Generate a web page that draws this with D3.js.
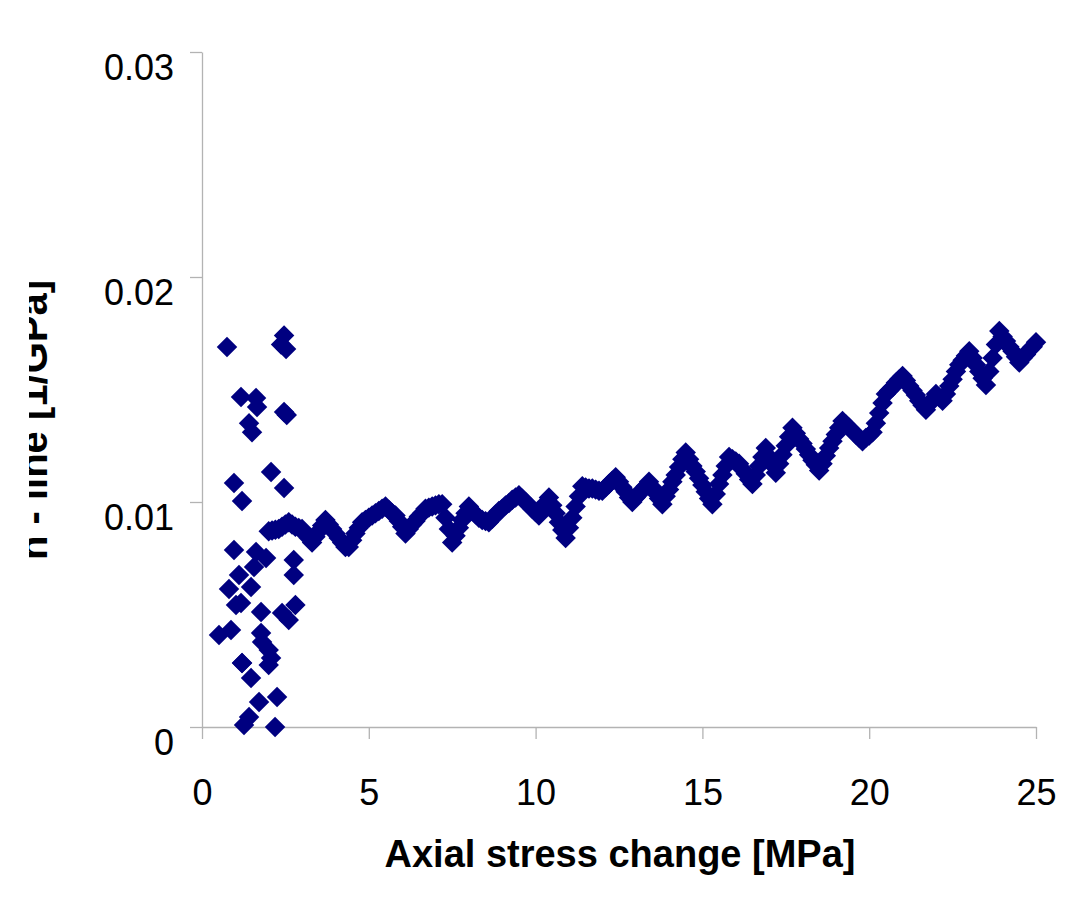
<!DOCTYPE html>
<html>
<head>
<meta charset="utf-8">
<script src="https://cdn.jsdelivr.net/npm/d3@7"></script>
<style>
  body { margin: 0; background: #fff; }
  svg { display: block; font-family: "Liberation Sans", Arial, sans-serif; }
  .axis path, .axis line { stroke: #b3b3b3; stroke-width: 1.3; }
  .axis text { fill: #000; font-size: 36px; }
</style>
</head>
<body>
<div id="chart"></div>
<script>
// scattered readings at low stress
var lowX = [0.51, 0.75, 0.81, 0.87, 0.96, 0.96, 1.02, 1.11, 1.17, 1.17, 1.2, 1.2, 1.2, 1.26, 1.41, 1.41, 1.47, 1.47, 1.5,
  1.56, 1.62, 1.65, 1.62, 1.71, 1.77, 1.77, 1.8, 1.92, 2.0, 2.0, 2.07, 2.07, 2.19, 2.25, 2.37, 2.4, 2.46, 2.46, 2.46,
  2.52, 2.54, 2.6, 2.75, 2.75, 2.8];
var lowY = [0.00409, 0.01689, 0.00613, 0.00431, 0.01084, 0.00787, 0.00542, 0.00676, 0.01467, 0.00551, 0.01004, 0.00284,
  0.00284, 0.00009, 0.00044, 0.0135, 0.00218, 0.00622, 0.0131, 0.00711, 0.01462, 0.01422, 0.00778, 0.00111, 0.00511,
  0.00418, 0.00378, 0.00751, 0.00342, 0.00276, 0.00307, 0.01133, 0, 0.00133, 0.0170, 0.00507, 0.0174, 0.0140, 0.01062,
  0.0168, 0.01387, 0.00476, 0.00742, 0.00676, 0.00542];

// main run (stress in MPa, n-line in 1/GPa x 1e-3 below)
var bandX = [2.0, 2.1, 2.2, 2.3, 2.4, 2.5, 2.6, 2.7, 2.8, 2.9, 3.0, 3.1, 3.2, 3.3, 3.4, 3.5, 3.6, 3.7, 3.8, 3.9,
  4.0, 4.1, 4.2, 4.3, 4.4, 4.5, 4.6, 4.7, 4.8, 4.9, 5.0, 5.1, 5.2, 5.3, 5.4, 5.5, 5.6, 5.7, 5.8, 5.9,
  6.0, 6.1, 6.2, 6.3, 6.4, 6.5, 6.6, 6.7, 6.8, 6.9, 7.0, 7.1, 7.2, 7.3, 7.4, 7.5, 7.6, 7.7, 7.8, 7.9,
  8.0, 8.1, 8.2, 8.3, 8.4, 8.5, 8.6, 8.7, 8.8, 8.9, 9.0, 9.1, 9.2, 9.3, 9.4, 9.5, 9.6, 9.7, 9.8, 9.9,
  10.0, 10.1, 10.2, 10.3, 10.4, 10.5, 10.6, 10.7, 10.8, 10.9, 11.0, 11.1, 11.2, 11.3, 11.4, 11.5, 11.6, 11.7, 11.8, 11.9,
  12.0, 12.1, 12.2, 12.3, 12.4, 12.5, 12.6, 12.7, 12.8, 12.9, 13.0, 13.1, 13.2, 13.3, 13.4, 13.5, 13.6, 13.7, 13.8, 13.9,
  14.0, 14.1, 14.2, 14.3, 14.4, 14.5, 14.6, 14.7, 14.8, 14.9, 15.0, 15.1, 15.2, 15.3, 15.4, 15.5, 15.6, 15.7, 15.8, 15.9,
  16.0, 16.1, 16.2, 16.3, 16.4, 16.5, 16.6, 16.7, 16.8, 16.9, 17.0, 17.1, 17.2, 17.3, 17.4, 17.5, 17.6, 17.7, 17.8, 17.9,
  18.0, 18.1, 18.2, 18.3, 18.4, 18.5, 18.6, 18.7, 18.8, 18.9, 19.0, 19.1, 19.2, 19.3, 19.4, 19.5, 19.6, 19.7, 19.8, 19.9,
  20.0, 20.1, 20.2, 20.3, 20.4, 20.5, 20.6, 20.7, 20.8, 20.9, 21.0, 21.1, 21.2, 21.3, 21.4, 21.5, 21.6, 21.7, 21.8, 21.9,
  22.0, 22.1, 22.2, 22.3, 22.4, 22.5, 22.6, 22.7, 22.8, 22.9, 23.0, 23.1, 23.2, 23.3, 23.4, 23.5, 23.6, 23.7, 23.8, 23.9,
  24.0, 24.1, 24.2, 24.3, 24.4, 24.5, 24.6, 24.7, 24.8, 24.9, 25.0];
var bandY = [8.7, 8.73, 8.77, 8.8, 8.9, 9.0, 9.1, 9.0, 8.9, 8.85, 8.8, 8.6, 8.4, 8.2, 8.45, 8.7, 8.95, 9.2, 9.0, 8.8,
  8.6, 8.4, 8.2, 8.0, 8.0, 8.3, 8.6, 8.85, 9.1, 9.2, 9.3, 9.4, 9.5, 9.6, 9.7, 9.8, 9.65, 9.5, 9.4, 9.15,
  8.9, 8.6, 8.8, 9.0, 9.15, 9.35, 9.5, 9.7, 9.75, 9.8, 9.85, 9.9, 9.9, 9.3, 8.8, 8.2, 8.5, 8.85, 9.2, 9.5,
  9.8, 9.6, 9.45, 9.3, 9.2, 9.15, 9.1, 9.25, 9.45, 9.6, 9.7, 9.85, 9.95, 10.1, 10.2, 10.3, 10.15, 10.0, 9.85, 9.7,
  9.55, 9.4, 9.65, 9.95, 10.2, 9.85, 9.5, 9.1, 8.75, 8.4, 8.85, 9.3, 9.8, 10.25, 10.7, 10.65, 10.6, 10.6, 10.55, 10.5,
  10.5, 10.65, 10.8, 10.95, 11.1, 10.9, 10.65, 10.45, 10.2, 10.0, 10.2, 10.35, 10.55, 10.7, 10.9, 10.65, 10.4, 10.15, 9.9, 10.25,
  10.55, 10.9, 11.2, 11.55, 11.9, 12.2, 11.9, 11.6, 11.35, 11.05, 10.75, 10.45, 10.15, 9.9, 10.35, 10.8, 11.2, 11.6, 12.0, 11.9,
  11.8, 11.7, 11.45, 11.25, 11.0, 10.8, 11.2, 11.6, 12.0, 12.4, 12.0, 11.65, 11.3, 11.7, 12.1, 12.5, 12.9, 13.3, 13.05, 12.8,
  12.6, 12.35, 12.1, 11.85, 11.65, 11.4, 11.7, 12.05, 12.4, 12.7, 13.0, 13.3, 13.6, 13.45, 13.3, 13.15, 13.0, 12.85, 12.7, 12.85,
  12.95, 13.1, 13.5, 13.95, 14.4, 14.8, 14.95, 15.1, 15.3, 15.45, 15.6, 15.4, 15.15, 14.95, 14.75, 14.5, 14.3, 14.1, 14.35, 14.55,
  14.8, 14.65, 14.5, 14.8, 15.15, 15.45, 15.8, 16.1, 16.3, 16.5, 16.7, 16.4, 16.1, 15.8, 15.5, 15.2, 15.8, 16.4, 17.0, 17.6,
  17.35, 17.15, 16.9, 16.7, 16.45, 16.2, 16.4, 16.55, 16.75, 16.9, 17.1];

var xTicks = [0, 5, 10, 15, 20, 25];
var yTicks = [0, 0.01, 0.02, 0.03];
var yTickLabels = ["0", "0.01", "0.02", "0.03"];
var xTitle = "Axial stress change [MPa]";
var yTitle = "n - line [1/GPa]";

var svgWidth = 1086;
var svgHeight = 908;

var svg = d3.select("#chart")
  .append("svg")
  .attr("width", svgWidth)
  .attr("height", svgHeight);

var xScale = d3.scaleLinear().domain([0, 25]).range([202, 1036]);
var yScale = d3.scaleLinear().domain([0, 0.03]).range([727, 52]);

var points = [];
lowX.forEach(function(x, i) { points.push({ x: x, y: lowY[i] }); });
bandX.forEach(function(x, i) { points.push({ x: x, y: bandY[i] / 1000 }); });

// axes
var bottomAxis = d3.axisBottom(xScale)
  .tickValues(xTicks)
  .tickFormat(d3.format("d"))
  .tickSize(12)
  .tickSizeOuter(0)
  .tickPadding(40);

var leftAxis = d3.axisLeft(yScale)
  .tickValues(yTicks)
  .tickFormat(function(d, i) { return yTickLabels[i]; })
  .tickSize(12)
  .tickSizeOuter(0)
  .tickPadding(16);

svg.append("g")
  .attr("class", "axis")
  .attr("transform", "translate(0," + yScale(0) + ")")
  .call(bottomAxis)
  .selectAll("text")
  .attr("dy", "0.71em");

svg.append("g")
  .attr("class", "axis")
  .attr("transform", "translate(" + xScale(0) + ",0)")
  .call(leftAxis)
  .selectAll("text")
  .attr("dy", "0.75em");

// markers
var diamond = d3.symbol().type(d3.symbolSquare).size(210);

svg.append("g")
  .selectAll("path")
  .data(points)
  .enter().append("path")
  .attr("d", diamond)
  .attr("transform", function(d) {
    return "translate(" + xScale(d.x) + "," + yScale(d.y) + ") rotate(45)";
  })
  .attr("fill", "#000080");

// axis titles
svg.append("text")
  .attr("x", 620)
  .attr("y", 867)
  .attr("text-anchor", "middle")
  .style("font-size", "38px")
  .style("font-weight", "bold")
  .text(xTitle);

// y title sits partly outside the visible frame
svg.append("clipPath")
  .attr("id", "ytclip")
  .append("rect")
  .attr("x", 29)
  .attr("y", 0)
  .attr("width", 100)
  .attr("height", svgHeight);

svg.append("g")
  .attr("clip-path", "url(#ytclip)")
  .append("text")
  .attr("transform", "translate(47,420) rotate(-90)")
  .attr("text-anchor", "middle")
  .style("font-size", "40px")
  .style("font-weight", "bold")
  .text(yTitle);
</script>
</body>
</html>
